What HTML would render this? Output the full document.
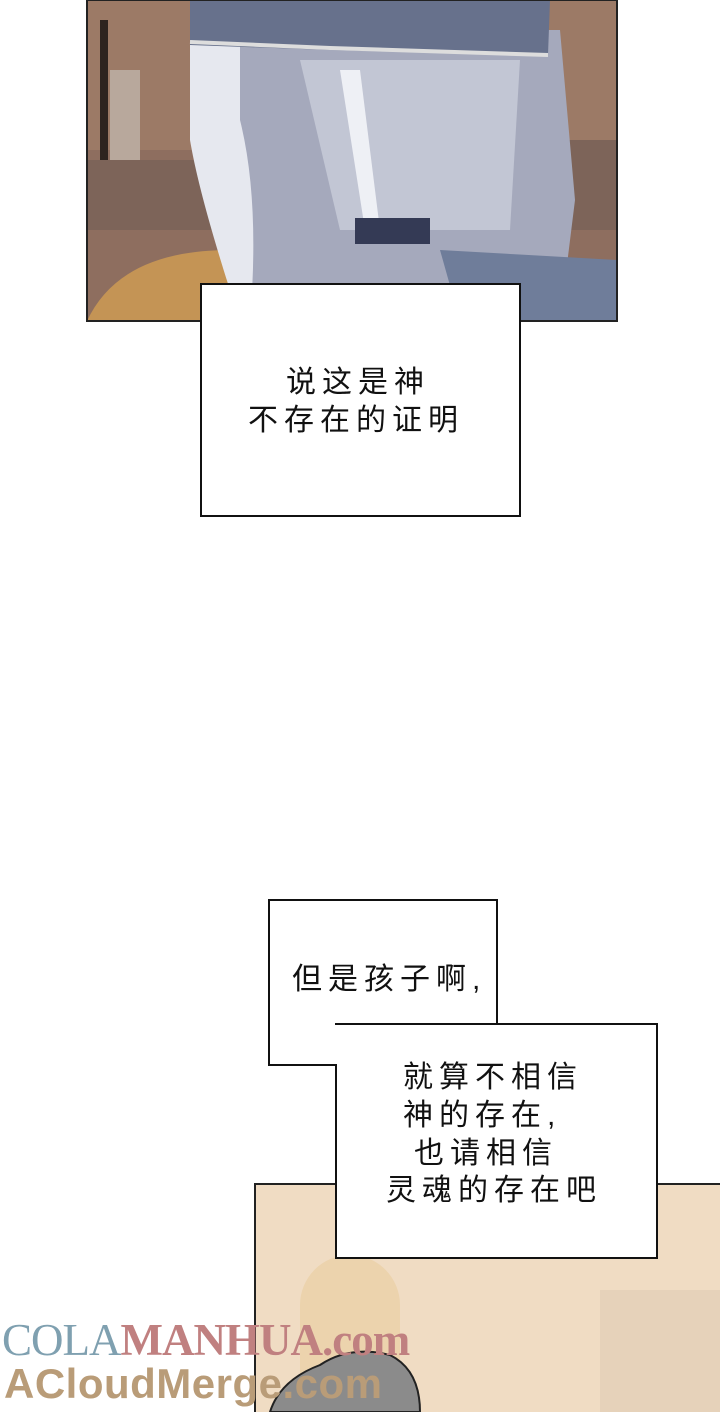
<!DOCTYPE html>
<html><head><meta charset="utf-8"><style>
html,body{margin:0;padding:0;background:#fff;}
body{width:720px;height:1412px;position:relative;overflow:hidden;font-family:"Liberation Sans","Noto Sans CJK SC",sans-serif;}
.abs{position:absolute;}
.box{position:absolute;background:#fff;border:2px solid #111;box-sizing:border-box;}
.t{position:absolute;font-size:30px;color:#111;white-space:nowrap;letter-spacing:6px;line-height:38px;}
</style></head><body>
<svg class="abs" style="left:0;top:0" width="720" height="330">
<rect x="87" y="0" width="530" height="321" fill="#9c7a66"/>
<rect x="87" y="150" width="530" height="171" fill="#8e6e5f"/>
<rect x="87" y="160" width="130" height="70" fill="#7d6459"/>
<rect x="520" y="140" width="97" height="90" fill="#7d6459"/>
<rect x="100" y="20" width="8" height="140" fill="#2e241f"/>
<rect x="110" y="70" width="30" height="90" fill="#b8a89c"/>
<path d="M87 321 Q120 250 230 250 L240 321Z" fill="#c49455"/>
<path d="M190 35 L330 40 L345 321 L240 321 Q200 200 190 140Z" fill="#e6e8ef"/>
<path d="M240 30 L560 30 L575 200 L560 321 L250 321 Q260 200 240 120Z" fill="#a5a9bc"/>
<path d="M300 60 L520 60 L510 230 L340 230Z" fill="#c2c6d4"/>
<path d="M340 70 L360 70 L380 230 L365 230Z" fill="#eef0f5"/>
<path d="M440 250 L617 260 L617 321 L460 321Z" fill="#6f7d9a"/>
<rect x="355" y="218" width="75" height="26" fill="#343a55"/>
<path d="M190 0 L550 0 L548 55 L330 50 L190 45Z" fill="#67718c"/>
<path d="M190 42 L330 48 L548 55" stroke="#ddd" stroke-width="4" fill="none"/>
<rect x="87" y="0" width="530" height="321" fill="none" stroke="#222" stroke-width="2"/>
</svg>
<div class="box" style="left:200px;top:283px;width:321px;height:234px;"></div>
<div class="t" style="left:286px;top:364px;">说这是神</div>
<div class="t" style="left:248px;top:402px;">不存在的证明</div>

<div class="abs" style="left:254px;top:1183px;width:466px;height:229px;background:#f0dcc3;border-left:2px solid #222;border-top:2px solid #222;box-sizing:border-box;"></div>
<div class="abs" style="left:300px;top:1255px;width:100px;height:157px;background:#ecd3ad;border-radius:50px 50px 0 0;"></div>
<div class="abs" style="left:600px;top:1290px;width:120px;height:122px;background:#e6d2ba;"></div>
<svg class="abs" style="left:0;top:1340px" width="720" height="72">
<path d="M270 72 Q280 40 320 25 Q350 5 390 15 Q420 30 420 72Z" fill="#8b8b8b" stroke="#222" stroke-width="2"/>
</svg>

<div class="box" style="left:268px;top:899px;width:230px;height:167px;"></div>
<div class="box" style="left:335px;top:1023px;width:323px;height:236px;"></div>
<div class="abs" style="left:270px;top:1025px;width:226px;height:39px;background:#fff;"></div>
<div class="abs" style="left:337px;top:1025px;width:161px;height:42px;background:#fff;"></div>
<div class="t" style="left:292px;top:961px;">但是孩子啊,</div>
<div class="t" style="left:403px;top:1059px;">就算不相信</div>
<div class="t" style="left:403px;top:1097px;">神的存在,</div>
<div class="t" style="left:414px;top:1135px;">也请相信</div>
<div class="t" style="left:386px;top:1172px;">灵魂的存在吧</div>

<div class="abs" style="left:2px;top:1314px;font-family:'Liberation Serif',serif;font-size:45px;color:#7fa0b0;letter-spacing:-1px;">COLA<span style="color:#c08080;font-weight:bold;">MANHUA.com</span></div>
<div class="abs" style="left:4px;top:1360px;font-size:42px;font-weight:bold;color:#b99c78;letter-spacing:0.5px;">ACloudMerge.com</div>
</body></html>
